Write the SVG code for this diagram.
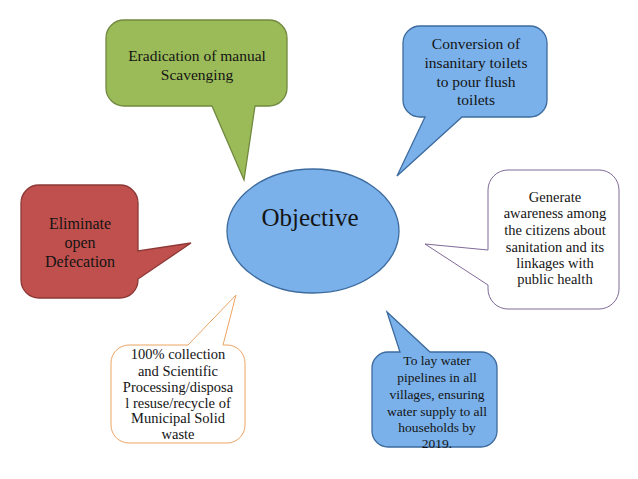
<svg xmlns="http://www.w3.org/2000/svg" width="638" height="479" viewBox="0 0 638 479">
<style>
  text { font-family: "Liberation Serif", "Times New Roman", serif; fill: #141414; text-anchor: middle; }
  .green { fill: #9BBB59; stroke: #71893F; stroke-width: 1.3; }
  .blue { fill: #7AB1EA; stroke: #3D6B9E; stroke-width: 1.3; }
  .red { fill: #C0504D; stroke: #8C3836; stroke-width: 1.3; }
  .purple { fill: #FFFFFF; stroke: #7F6A99; stroke-width: 1; }
  .orange { fill: #FFFFFF; stroke: #EDA463; stroke-width: 1; }
</style>
<rect width="638" height="479" fill="#FFFFFF"/>
<g id="connectors"></g>
<g id="node-objective">
  <ellipse class="blue" cx="313" cy="231" rx="86" ry="62"/>
  <text x="310" y="226" font-size="25">Objective</text>
</g>
<g id="node-scavenging" font-size="15.5">
  <path class="green" d="M124,20 H269 A18,18 0 0 1 287,38 V88 A18,18 0 0 1 269,106 H255 L244,180 L212,106 H124 A18,18 0 0 1 106,88 V38 A18,18 0 0 1 124,20 Z"/>
  <text x="197" y="61">Eradication of manual</text>
  <text x="197" y="80">Scavenging</text>
</g>
<g id="node-toilets" font-size="15.5">
  <path class="blue" d="M420,26 H530 A17,17 0 0 1 547,43 V100 A17,17 0 0 1 530,117 H462 L397,176 L425,117 H420 A17,17 0 0 1 403,100 V43 A17,17 0 0 1 420,26 Z"/>
  <text x="476" y="49">Conversion of</text>
  <text x="476" y="68">insanitary toilets</text>
  <text x="476" y="87">to pour flush</text>
  <text x="476" y="105">toilets</text>
</g>
<g id="node-awareness" font-size="14.5">
  <path class="purple" d="M508,170 H599 A20,20 0 0 1 619,190 V289 A20,20 0 0 1 599,309 H508 A20,20 0 0 1 488,289 V285 L425,244 L488,250 V190 A20,20 0 0 1 508,170 Z"/>
  <text x="555" y="202">Generate</text>
  <text x="555" y="218">awareness among</text>
  <text x="555" y="235">the citizens about</text>
  <text x="555" y="252">sanitation and its</text>
  <text x="555" y="268">linkages with</text>
  <text x="555" y="284">public health</text>
</g>
<g id="node-defecation" font-size="16">
  <path class="red" d="M39,185 H120 A18,18 0 0 1 138,203 V251 L191,243 L138,279 V280 A18,18 0 0 1 120,298 H39 A18,18 0 0 1 21,280 V203 A18,18 0 0 1 39,185 Z"/>
  <text x="80" y="229">Eliminate</text>
  <text x="80" y="248">open</text>
  <text x="80" y="267">Defecation</text>
</g>
<g id="node-waste" font-size="14.5">
  <path class="orange" d="M129,345 H188 L236,295 L223,345 H227 A18,18 0 0 1 245,363 V425 A18,18 0 0 1 227,443 H129 A18,18 0 0 1 111,425 V363 A18,18 0 0 1 129,345 Z"/>
  <text x="178" y="359">100% collection</text>
  <text x="178" y="376">and Scientific</text>
  <text x="178" y="392">Processing/disposa</text>
  <text x="178" y="408">l resuse/recycle of</text>
  <text x="178" y="423">Municipal Solid</text>
  <text x="178" y="439">waste</text>
</g>
<g id="node-water" font-size="13.5">
  <path class="blue" d="M388,352 H400 L387,312 L430,352 H481 A16,16 0 0 1 497,368 V431 A16,16 0 0 1 481,447 H388 A16,16 0 0 1 372,431 V368 A16,16 0 0 1 388,352 Z"/>
  <text x="437" y="365">To lay water</text>
  <text x="437" y="382">pipelines in all</text>
  <text x="437" y="399">villages, ensuring</text>
  <text x="437" y="416">water supply to all</text>
  <text x="437" y="432">households by</text>
  <text x="437" y="448">2019.</text>
</g>
</svg>
